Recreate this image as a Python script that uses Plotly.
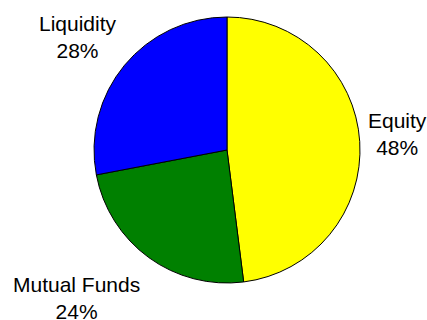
import math
import plotly.graph_objects as go

labels = ["Equity", "Mutual Funds", "Liquidity"]
values = [48, 24, 28]
colors = ["#FFFF00", "#008000", "#0000FF"]

W, H = 427, 320
cx, cy, R = 227, 150, 133   # pie centre / radius in pixels
gap = 9
# small per-label nudges (pixels) for label placement
nudge = {"Equity": (-2, 7), "Mutual Funds": (-3, -7), "Liquidity": (0, -4)}

fig = go.Figure(go.Pie(
    labels=labels,
    values=values,
    sort=False,
    direction="clockwise",
    rotation=0,
    marker=dict(colors=colors, line=dict(color="black", width=1)),
    textinfo="none",
    showlegend=False,
    hoverinfo="label+percent",
    domain=dict(x=[(cx - R) / W, (cx + R) / W], y=[(H - cy - R) / H, (H - cy + R) / H]),
))

total = sum(values)
cum = 0
annotations = []
for lab, v in zip(labels, values):
    mid = (cum + v / 2) / total * 2 * math.pi
    cum += v
    dx, dy = math.sin(mid), -math.cos(mid)   # screen direction (dy down)
    px = cx + (R + gap) * dx
    py = cy + (R + gap) * dy
    xanchor = "left" if dx > 0.1 else ("right" if dx < -0.1 else "center")
    if abs(dy) < 0.3:
        yanchor = "middle"
    else:
        yanchor = "top" if dy > 0 else "bottom"
    xs, ys = nudge.get(lab, (0, 0))
    annotations.append(dict(
        x=px / W, y=1 - py / H, xref="paper", yref="paper",
        text=f"{lab}<br>{round(v / total * 100)}%",
        showarrow=False, xanchor=xanchor, yanchor=yanchor, align="center",
        borderpad=0, xshift=xs, yshift=ys,
        font=dict(family="Liberation Sans, Arial, sans-serif", size=21, color="black"),
    ))

fig.update_layout(
    width=W, height=H,
    margin=dict(l=0, r=0, t=0, b=0),
    paper_bgcolor="white",
    plot_bgcolor="white",
    annotations=annotations,
)

fig.write_html("out.html")
